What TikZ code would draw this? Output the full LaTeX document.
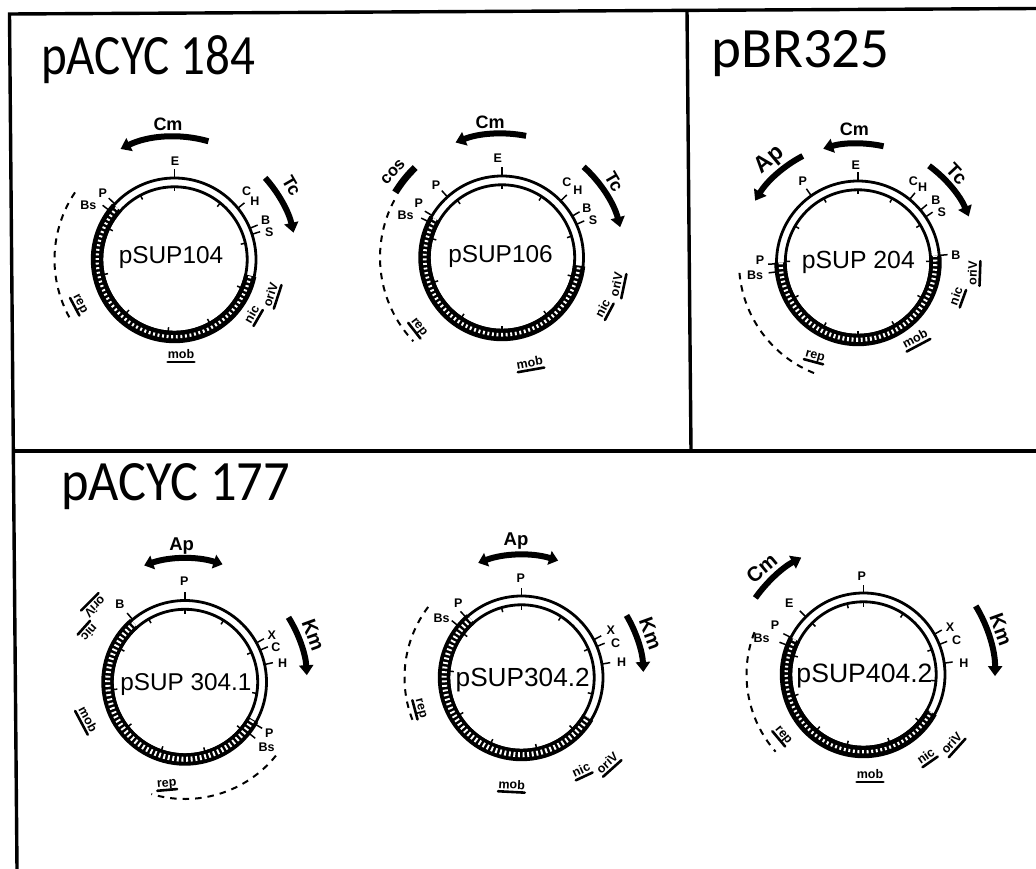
\documentclass[tikz,border=0pt]{standalone}
\usepackage{fontspec}
\usetikzlibrary{arrows.meta}
\setmainfont{Liberation Sans}
\newfontfamily\panelfont{Carlito}
\tikzset{
  frameline/.style={line width=3.4pt},
  ringline/.style={line width=2.8pt},
  sitetick/.style={line width=1.5pt},
  hatchband/.style={line width=12.4pt},
  hatchgap/.style={white, line width=#1, dash pattern=on 1.9pt off 2.7pt},
  reparc/.style={line width=2pt, dash pattern=on 6.5pt off 6pt},
  onearrow/.style={line width=6pt, -{Triangle[length=10pt,width=14pt]}},
  twoarrow/.style={line width=6pt, {Triangle[length=9pt,width=14pt]}-{Triangle[length=9pt,width=14pt]}},
  plainbar/.style={line width=7pt},
  sitelab/.style={inner sep=0pt, font=\bfseries\fontsize{12.5}{12.5}\selectfont},
  genelab/.style={inner sep=0pt, font=\bfseries\fontsize{#1}{#1}\selectfont},
  locuslab/.style={inner sep=0pt, text height=8.5pt, text depth=3pt, font=\bfseries\fontsize{12.5}{12.5}\selectfont,
    append after command={(\tikzlastnode.south west) edge[line width=2.6pt, line cap=round] (\tikzlastnode.south east)}},
  mapname/.style={inner sep=0pt, anchor=base, font=\fontsize{#1}{#1}\selectfont},
  paneltitle/.style={inner sep=0pt, anchor=base west, font=\panelfont\addfontfeatures{FakeStretch=#1}\fontsize{57}{57}\selectfont},
}
\begin{document}
\begin{tikzpicture}[x=1pt, y=-1pt]
  \useasboundingbox (0,0) rectangle (1036,869);
  \coordinate (tl) at (9.5,14);
  \coordinate (tr) at (1036,8.5);
  \coordinate (tm) at (687,10);
  \coordinate (bl) at (17,869);
  \coordinate (ml) at (13.3,451);
  \coordinate (mr) at (1036,451);
  \coordinate (mm) at (691,451);
  \draw[frameline] (bl) -- (tl) -- (tr);
  \draw[frameline] (tm) -- (mm);
  \draw[frameline] (ml) -- (mr);
  \node[paneltitle=0.86] (t1) at (41,75) {pACYC 184};
  \node[paneltitle=1] (t2) at (711,68) {pBR325};
  \node[paneltitle=0.92] (t3) at (61,500) {pACYC 177};
  % maps: centre, hatched part, inner ticks, outer ticks
  \foreach \id/\cx/\cy/\hs/\he/\hw/\inn/\out in {
    m1/174.5/259.5/138/348/3.2pt/{90,51,13,-23,-61,-95,-132,-168,155,118}/{90,137,143,39,22.5,18},
    m2/502/257.5/150/354/3.6pt/{90,57,17,-15,-52,-90,-124,-160,165,128}/{90,132,149,154,44,30.5,24},
    m3/858/262.5/180/365/4.2pt/{90,118,150,179,-151,-118,-90,-60,-29,1,31,62}/{90,125,50.7,40,34,5,181,186.6},
    m4/185/682/131/331/5pt/{90,120,153,-174,-142,-109,-74,-40,-9,24,58}/{90,130,28.7,23,12.4,-31,-38.7},
    m5/521.5/677.5/131/329/5pt/{90,106,143,175,-149,-115,-78,-45,-13,23,57}/{90,132.7,140.8,27.6,22.4,9.5},
    m6/863.5/674.5/153/331/3.2pt/{90,103,135,165,-163,-130,-103,-69,-40,-5,20,57}/{90,135,153,159,29.6,21.6,8}} {
    \coordinate (\id) at (\cx,\cy);
    \draw[ringline] (\id) circle (81.5pt);
    \draw[ringline] (\id) circle (72.7pt);
    \draw[hatchband] (\id) ++(\hs:77.5pt) arc[start angle=\hs, end angle=\he, radius=77.5pt];
    \draw[hatchgap=\hw] (\id) ++(\hs:77.3pt) arc[start angle=\hs, end angle=\he, radius=77.3pt];
    \foreach \a in \inn { \draw[sitetick] (\id) ++(\a:73pt) -- ++(\a:-5pt); }
    \foreach \a in \out { \draw[sitetick] (\id) ++(\a:81pt) -- ++(\a:9pt); }
  }
  \foreach \x/\y/\s/\w [count=\i] in {171/263/24.4/pSUP104, 500.5/262.7/24.4/pSUP106, 858.3/268/24.8/pSUP 204,
    186/690/24.3/pSUP 304.1, 522.7/686.7/26.2/pSUP304.2, 864.5/682.7/26.6/pSUP404.2} {
    \node[mapname=\s] (n\i) at (\x,\y) {\w};
  }
  % resistance genes and cos
  \foreach \id/\st/\a/\b/\r in {m1/onearrow/74/116/123, m1/onearrow/42/12.7/122,
    m2/onearrow/78.8/112/124, m2/onearrow/48/14.4/122, m2/plainbar/148.6/134/125,
    m3/onearrow/77.6/107/119, m3/onearrow/117.4/149/120, m3/onearrow/53.7/22.6/120,
    m4/twoarrow/109.3/72.3/123.5, m4/onearrow/32/3.2/122,
    m5/twoarrow/110.7/72.6/122.5, m5/onearrow/30.6/2.6/122,
    m6/onearrow/144.7/118/132.5, m6/onearrow/31.4/-0.7/131.5} {
    \draw[\st] (\id) ++(\a:\r pt) arc[start angle=\a, end angle=\b, radius=\r pt];
  }
  % rep regions
  \foreach \id/\a/\b/\r in {m1/146/209/120, m2/152/223.4/122, m3/185/249/119,
    m4/-39/-106.7/117, m5/142.9/201.4/117, m6/158.8/221.3/117} {
    \draw[reparc] (\id) ++(\a:\r pt) arc[start angle=\a, end angle=\b, radius=\r pt];
  }
  \foreach \x/\y/\w [count=\i] in {175/161/E, 102.7/193.3/P, 88.3/205/Bs, 246.7/190.7/C, 255/201.7/H, 265.7/220/B, 269.3/232.3/S,
    497.7/158/E, 436/185/P, 418.7/203/P, 405.7/215.7/Bs, 567/182/C, 578/190.7/H, 587/208/B, 593/220/S,
    855.7/165.7/E, 802.7/181/P, 913.3/181/C, 922.7/187.3/H, 936/200/B, 941.7/211.7/S, 956/255/B, 760/260.7/P, 755/275/Bs,
    184.3/580.7/P, 120/604/B, 271.7/635/X, 276/646.7/C, 282.7/662.7/H, 269.3/733.3/P, 266.7/747.3/Bs,
    520.7/578.3/P, 458.3/603.3/P, 441.7/618.3/Bs, 610.7/630/X, 615.7/643.3/C, 621.7/662.3/H,
    861.7/576/P, 789.3/603.3/E, 775/625/P, 761.7/638.3/Bs, 950/627.3/X, 956.7/640/C, 964/662.7/H} {
    \node[sitelab] (s\i) at (\x,\y) {\w};
  }
  \foreach \x/\y/\r/\s/\w [count=\i] in {168/124/0/18/Cm, 291.7/186/-60/18/Tc, 490/122.7/0/18/Cm, 614/182/-60/18/Tc, 393/172/47/16.5/cos,
    854.3/129/0/18/Cm, 770/160/40/23/Ap, 956.7/174/-47/19/Tc, 181.7/546/0/18.5/Ap, 313.3/635/-70/20/Km,
    516/541/0/18.5/Ap, 650.7/633.3/-70/20/Km, 761.7/568.3/40/20.5/Cm, 1001/629.3/-70/20/Km} {
    \node[genelab=\s, rotate=\r] (g\i) at (\x,\y) {\w};
  }
  \foreach \x/\y/\r/\w [count=\i] in {253/315/60/nic, 272/295/72/oriV, 181/356/0/mob, 80/304/-62/rep,
    604/309/62/nic, 618/285/78/oriV, 530/364/10/mob, 419/327/-52/rep,
    957.3/296.7/70/nic, 974/273.3/88/oriV, 915.7/340/28/mob, 815/356/-15/rep,
    94/606/225/oriV, 88.3/631.7/228/nic, 86.7/720/-62/mob, 166.7/784/5/rep,
    581.7/771/25/nic, 608.3/764/42/oriV, 511.7/786/-3/mob, 420.7/708.3/-75/rep,
    926.7/757/35/nic, 952.7/744/48/oriV, 870/776/0/mob, 783.3/735/-50/rep} {
    \node[locuslab, rotate=\r] (l\i) at (\x,\y) {\w};
  }
\end{tikzpicture}
\end{document}
